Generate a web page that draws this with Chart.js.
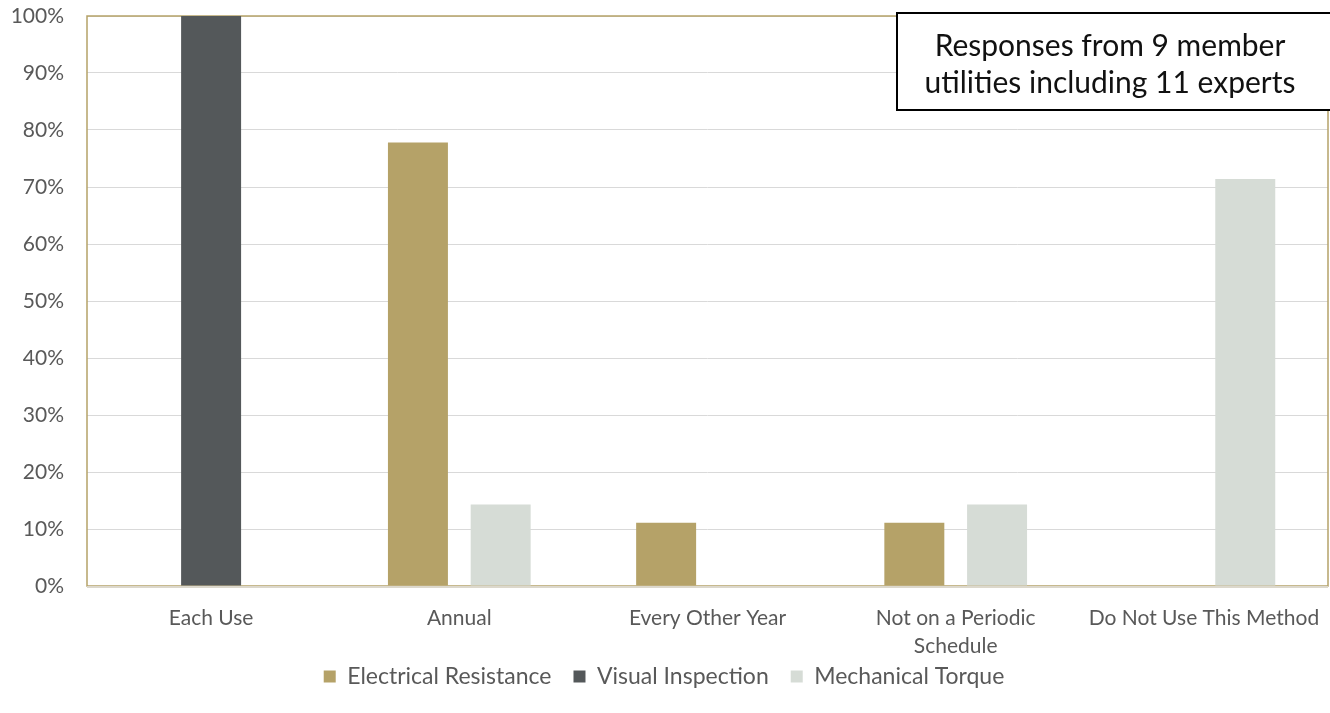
<!DOCTYPE html>
<html>
<head>
<meta charset="utf-8">
<script src="https://cdn.jsdelivr.net/npm/chart.js@4"></script>
<style>
  html, body { margin: 0; padding: 0; background: #fff; }
  #wrap { width: 1330px; height: 713px; }
</style>
</head>
<body>
<div id="wrap"><canvas id="chart" width="1330" height="713"></canvas></div>
<script>
// categories and series (percent of respondents)
const categories = ['Each Use', 'Annual', 'Every Other Year', ['Not on a Periodic', 'Schedule'], 'Do Not Use This Method'];
const electricalResistance = [0, 77.8, 11.1, 11.1, 0];
const visualInspection = [100, 0, 0, 0, 0];
const mechanicalTorque = [0, 14.3, 0, 14.3, 71.4];
const yTicks = [0, 10, 20, 30, 40, 50, 60, 70, 80, 90, 100];
const noteLines = ['Responses from 9 member', 'utilities including 11 experts'];

const GOLD = '#b5a268';
const DARK = '#54585a';
const LIGHT = '#d6dcd6';
const TEXT = '#595959';
const FONT = "Lato, 'Open Sans', sans-serif";

// plot frame: gold outline, beige floor line
const framePlugin = {
    id: 'frame',
    beforeDatasetsDraw(chart) {
        const { ctx, chartArea: a } = chart;
        ctx.save();
        ctx.strokeStyle = GOLD;
        ctx.lineWidth = 1.5;
        ctx.strokeRect(a.left, a.top, a.right - a.left, a.bottom - a.top);
        ctx.strokeStyle = '#dcd8cc';
        ctx.lineWidth = 2;
        ctx.beginPath();
        ctx.moveTo(a.left, a.bottom + 1);
        ctx.lineTo(a.right, a.bottom + 1);
        ctx.stroke();
        ctx.restore();
    }
};

// text box in the top-right corner
const notePlugin = {
    id: 'note',
    afterDraw(chart) {
        const ctx = chart.ctx;
        const x = 897, y = 13, w = 440, h = 97;
        ctx.save();
        ctx.fillStyle = '#fff';
        ctx.fillRect(x, y, w, h);
        ctx.strokeStyle = '#000';
        ctx.lineWidth = 2;
        ctx.strokeRect(x, y, w, h);
        ctx.fillStyle = '#111';
        ctx.font = "30px " + FONT;
        ctx.textAlign = 'center';
        ctx.textBaseline = 'middle';
        ctx.fillText(noteLines[0], 1110, 46);
        ctx.fillText(noteLines[1], 1110, 83);
        ctx.restore();
    }
};

// pull the legend up, right under the category labels
const legendShift = {
    id: 'legendShift',
    afterLayout(chart) {
        const lg = chart.legend;
        if (!lg) return;
        lg.top -= 19;
        lg.bottom -= 19;
    }
};

new Chart(document.getElementById('chart'), {
    type: 'bar',
    data: {
        labels: categories,
        datasets: [
            { label: 'Electrical Resistance', data: electricalResistance, backgroundColor: GOLD },
            { label: 'Visual Inspection', data: visualInspection, backgroundColor: DARK },
            { label: 'Mechanical Torque', data: mechanicalTorque, backgroundColor: LIGHT }
        ]
    },
    options: {
        responsive: false,
        animation: false,
        layout: { padding: { top: 16, right: 2, bottom: 0, left: 0 } },
        datasets: {
            bar: { categoryPercentage: 0.5, barPercentage: 1.45, borderWidth: 0 }
        },
        scales: {
            x: {
                afterFit(scale) {
                    scale.paddingLeft = 0;
                    scale.paddingRight = 0;
                    scale.height = 76;
                },
                grid: { display: false, drawTicks: false },
                border: { display: false },
                ticks: {
                    color: TEXT,
                    font: { family: FONT, size: 21, lineHeight: 1.35 },
                    padding: 18,
                    maxRotation: 0,
                    autoSkip: false
                }
            },
            y: {
                min: 0,
                max: 100,
                afterFit(scale) {
                    scale.width = 87;
                    scale.paddingTop = 0;
                    scale.paddingBottom = 0;
                },
                afterBuildTicks(scale) { scale.ticks = yTicks.map(v => ({ value: v })); },
                grid: { color: '#d9d9d9', lineWidth: 1, drawTicks: false },
                border: { display: false },
                ticks: {
                    color: TEXT,
                    font: { family: FONT, size: 21 },
                    padding: 23,
                    callback: v => v + '%'
                }
            }
        },
        plugins: {
            legend: {
                position: 'bottom',
                maxHeight: 51,
                labels: {
                    color: TEXT,
                    font: { family: FONT, size: 23 },
                    boxWidth: 12,
                    boxHeight: 12,
                    padding: 22
                }
            },
            tooltip: { enabled: false }
        }
    },
    plugins: [framePlugin, notePlugin, legendShift]
});
</script>
</body>
</html>
